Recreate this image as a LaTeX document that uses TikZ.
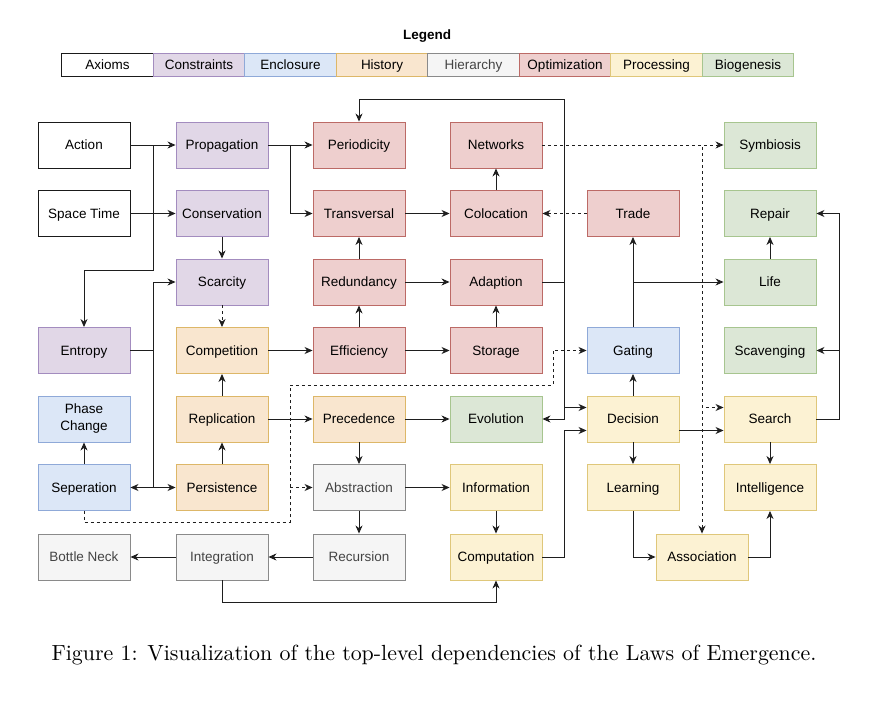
\documentclass[tikz,border=0pt]{standalone}
\usepackage{fontspec}
\setsansfont{Liberation Sans}
\usepackage{graphicx}
\usetikzlibrary{arrows.meta,calc}
\definecolor{lineC}{HTML}{1E1E1E}
\definecolor{axF}{HTML}{FFFFFF}\definecolor{axD}{HTML}{1A1A1A}
\definecolor{coF}{HTML}{E1D7E7}\definecolor{coD}{HTML}{A38CBF}
\definecolor{enF}{HTML}{DCE7F7}\definecolor{enD}{HTML}{8FA9D8}
\definecolor{hiF}{HTML}{F9E6CF}\definecolor{hiD}{HTML}{DDB768}
\definecolor{heF}{HTML}{F5F5F5}\definecolor{heD}{HTML}{8A8A8A}\definecolor{heT}{HTML}{444444}
\definecolor{opF}{HTML}{EECFCE}\definecolor{opD}{HTML}{BC6A66}
\definecolor{prF}{HTML}{FCF2D3}\definecolor{prD}{HTML}{DFC77A}
\definecolor{biF}{HTML}{DCE7D6}\definecolor{biD}{HTML}{A7C58F}
\begin{document}
\begin{tikzpicture}[x=1pt,y=-1pt,
  base/.style={draw, line width=0.9pt, inner sep=1pt, align=center,
    font=\fontsize{13.5}{17}\selectfont\sffamily, text=black,
    text height=9.7pt, text depth=0pt},
  box/.style={base, minimum width=92pt, minimum height=46pt},
  leg/.style={base, minimum width=91.5pt, minimum height=23pt},
  axi/.style={fill=axF, draw=axD},
  con/.style={fill=coF, draw=coD},
  enc/.style={fill=enF, draw=enD},
  his/.style={fill=hiF, draw=hiD},
  hie/.style={fill=heF, draw=heD, text=heT},
  opt/.style={fill=opF, draw=opD},
  pro/.style={fill=prF, draw=prD},
  bio/.style={fill=biF, draw=biD},
  arr/.style={draw=lineC, line width=0.9pt, -{Stealth[length=8pt,width=7pt,inset=2.5pt]}},
  dsh/.style={arr, dash pattern=on 3pt off 3pt}
]
\useasboundingbox (0,0) rectangle (894,722);

% legend
\node[font=\fontsize{13.5}{16}\selectfont\sffamily\bfseries] (legtitle) at (427,36) {Legend};
\node[leg,axi] (l1) at (107.5,64.5) {Axioms};
\node[leg,con] (l2) at (199,64.5) {Constraints};
\node[leg,enc] (l3) at (290.5,64.5) {Enclosure};
\node[leg,his] (l4) at (382,64.5) {History};
\node[leg,hie] (l5) at (473.5,64.5) {Hierarchy};
\node[leg,opt] (l6) at (565,64.5) {Optimization};
\node[leg,pro] (l7) at (656.5,64.5) {Processing};
\node[leg,bio] (l8) at (748,64.5) {Biogenesis};

% row 1
\node[box,axi] (action) at (84,145) {Action};
\node[box,con] (propagation) at (222,145) {Propagation};
\node[box,opt] (periodicity) at (359,145) {Periodicity};
\node[box,opt] (networks) at (496,145) {Networks};
\node[box,bio] (symbiosis) at (770,145) {Symbiosis};
% row 2
\node[box,axi] (spacetime) at (84,213.5) {Space Time};
\node[box,con] (conservation) at (222,213.5) {Conservation};
\node[box,opt] (transversal) at (359,213.5) {Transversal};
\node[box,opt] (colocation) at (496,213.5) {Colocation};
\node[box,opt] (trade) at (633,213.5) {Trade};
\node[box,bio] (repair) at (770,213.5) {Repair};
% row 3
\node[box,con] (scarcity) at (222,282) {Scarcity};
\node[box,opt] (redundancy) at (359,282) {Redundancy};
\node[box,opt] (adaption) at (496,282) {Adaption};
\node[box,bio] (life) at (770,282) {Life};
% row 4
\node[box,con] (entropy) at (84,350.5) {Entropy};
\node[box,his] (competition) at (222,350.5) {Competition};
\node[box,opt] (efficiency) at (359,350.5) {Efficiency};
\node[box,opt] (storage) at (496,350.5) {Storage};
\node[box,enc] (gating) at (633,350.5) {Gating};
\node[box,bio] (scavenging) at (770,350.5) {Scavenging};
% row 5
\node[box,enc,text height={},text depth={}] (phasechange) at (84,419) {Phase\\Change};
\node[box,his] (replication) at (222,419) {Replication};
\node[box,his] (precedence) at (359,419) {Precedence};
\node[box,bio] (evolution) at (496,419) {Evolution};
\node[box,pro] (decision) at (633,419) {Decision};
\node[box,pro] (search) at (770,419) {Search};
% row 6
\node[box,enc] (seperation) at (84,487.5) {Seperation};
\node[box,his] (persistence) at (222,487.5) {Persistence};
\node[box,hie] (abstraction) at (359,487.5) {Abstraction};
\node[box,pro] (information) at (496,487.5) {Information};
\node[box,pro] (learning) at (633,487.5) {Learning};
\node[box,pro] (intelligence) at (770,487.5) {Intelligence};
% row 7
\node[box,hie] (bottleneck) at (84,557) {Bottle Neck};
\node[box,hie] (integration) at (222,557) {Integration};
\node[box,hie] (recursion) at (359,557) {Recursion};
\node[box,pro] (computation) at (496,557) {Computation};
\node[box,pro] (association) at (702,557) {Association};

% ports
\coordinate (decL1) at ($(decision.west)+(0,-11.5)$);
\coordinate (decL2) at ($(decision.west)+(0,11.5)$);
\coordinate (decR2) at ($(decision.east)+(0,11.5)$);
\coordinate (seaL1) at ($(search.west)+(0,-11.5)$);
\coordinate (seaL2) at ($(search.west)+(0,11.5)$);

% axioms / constraints
\draw[arr] (action) -- (propagation);
\draw[arr] (action.east) -| (153,270) -| (entropy.north);
\draw[arr] (spacetime) -- (conservation);
\draw[arr] (conservation) -- (scarcity);
\draw[arr] (entropy.east) -- (153,350.5) |- (scarcity.west);
\draw[arr] (entropy.east) -- (153,350.5) |- (seperation.east);
\draw[arr] (entropy.east) -- (153,350.5) |- (persistence.west);
\draw[dsh] (scarcity) -- (competition);
\draw[arr] (competition) -- (efficiency);
\draw[arr] (replication) -- (competition);
\draw[arr] (persistence) -- (replication);
\draw[arr] (replication) -- (precedence);
\draw[arr] (seperation) -- (phasechange);
\draw[dsh] (seperation.south) -- (84,522) -| (290,487.5) -- (abstraction.west);
\draw[dsh] (seperation.south) -- (84,522) -| (290,385) -| (553,350.5) -- (gating.west);

% optimization
\draw[arr] (propagation) -- (periodicity);
\draw[arr] (propagation.east) -- (290,145) |- (transversal.west);
\draw[arr] (transversal) -- (colocation);
\draw[arr] (redundancy) -- (transversal);
\draw[arr] (efficiency) -- (redundancy);
\draw[arr] (redundancy) -- (adaption);
\draw[arr] (efficiency) -- (storage);
\draw[arr] (storage) -- (adaption);
\draw[arr] (colocation) -- (networks);
\draw[arr] (adaption.east) -| (564,99) -| (periodicity.north);
\draw[arr] (adaption.east) -- (564,282) |- (evolution.east);
\draw[arr] (adaption.east) -- (564,282) |- (decL1);
\draw[arr] (computation.east) -- (564,557) |- (decL2);
\draw[dsh] (networks) -- (symbiosis);
\draw[dsh] (networks.east) -| (association.north);
\draw[dsh] (networks.east) -- (702,145) |- (seaL1);
\draw[dsh] (trade) -- (colocation);

% right part
\draw[arr] (gating) -- (trade);
\draw[arr] (gating.north) |- (life.west);
\draw[arr] (life) -- (repair);
\draw[arr] (search.east) -- (839,419) |- (repair.east);
\draw[arr] (search.east) -- (839,419) |- (scavenging.east);
\draw[arr] (decision) -- (gating);
\draw[arr] (decision) -- (learning);
\draw[arr] (search) -- (intelligence);
\draw[arr] (decR2) -- (seaL2);
\draw[arr] (learning.south) |- (association.west);
\draw[arr] (association.east) -| (intelligence.south);

% history / hierarchy
\draw[arr] (precedence) -- (evolution);
\draw[arr] (precedence) -- (abstraction);
\draw[arr] (abstraction) -- (information);
\draw[arr] (abstraction) -- (recursion);
\draw[arr] (information) -- (computation);
\draw[arr] (recursion) -- (integration);
\draw[arr] (integration) -- (bottleneck);
\draw[arr] (integration.south) -- (222,602) -| (computation.south);

% caption
\node (caption) at (434,655) {\scalebox{2.19}{\fontsize{10}{12}\selectfont\rmfamily Figure 1: Visualization of the top-level dependencies of the Laws of Emergence.}};
\end{tikzpicture}
\end{document}
